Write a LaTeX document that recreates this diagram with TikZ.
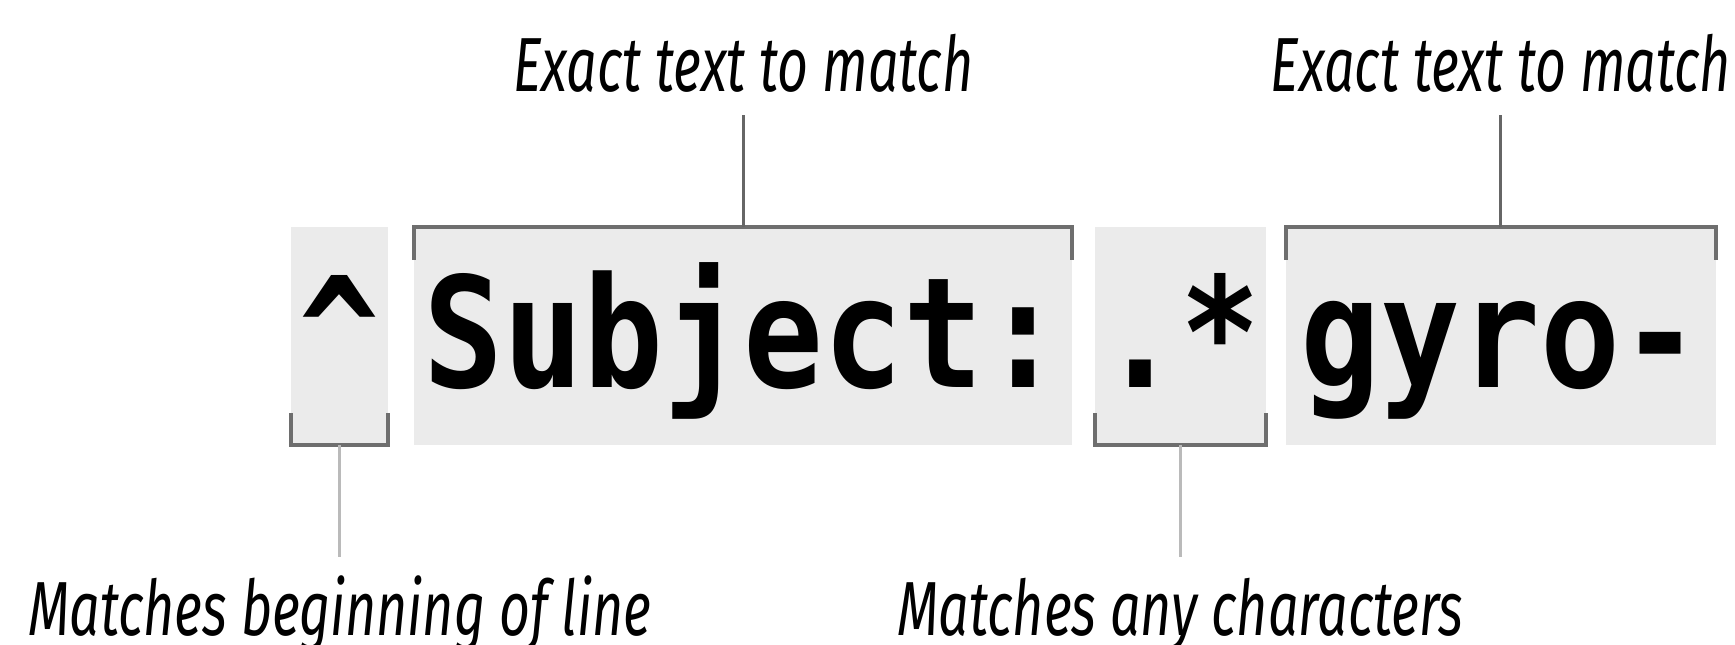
\documentclass[tikz,border=0pt]{standalone}
\usepackage{fontspec}
\usetikzlibrary{positioning}
\newfontfamily\codefont[FakeStretch=0.865]{DejaVu Sans Mono}
\newfontfamily\notefont[FakeStretch=0.7]{Fira Sans}

\begin{document}
\begin{tikzpicture}[
    x=0.01cm, y=-0.01cm,
    code/.style={
        rectangle, fill=black!8, inner sep=0pt, outer sep=0pt,
        text height=1.60cm, text depth=0.58cm, align=center,
        font=\codefont\bfseries\fontsize{43.7pt}{44pt}\selectfont
    },
    note/.style={
        inner sep=0pt, outer ysep=0.23cm, text height=0.55cm, text depth=0pt,
        font=\notefont\itshape\fontsize{21.8pt}{22pt}\selectfont
    },
    brk/.style={draw=black!57, line width=0.04cm},
    up/.style={draw=black!60, line width=0.035cm},
    down/.style={draw=black!27, line width=0.035cm}
]
    \useasboundingbox (0,0) rectangle (1735,644);

    %% --- Regex pieces ---
    \node[code, minimum width=0.97cm, anchor=base west] (caret) at (291,387) {\textasciicircum};
    \node[code, minimum width=6.58cm, right=0.26cm of caret] (subj) {Subject:};
    \node[code, minimum width=1.70cm, right=0.23cm of subj] (dotstar) {.*};
    \node[code, minimum width=4.30cm, right=0.20cm of dotstar] (gyro) {gyro-};

    %% --- Notes ---
    \node[note, above=1.12cm of subj] (exact1) {Exact text to match};
    \node[note, above=1.12cm of gyro] (exact2) {Exact text to match};
    \node[note, below=1.12cm of caret] (linestart) {Matches beginning of line};
    \node[note, below=1.12cm of dotstar] (anychars) {Matches any characters};

    %% --- Brackets ---
    \draw[brk] ([yshift=0.32cm]caret.south west) |- (caret.south east) -- ([yshift=0.32cm]caret.south east);
    \draw[brk] ([yshift=-0.33cm]subj.north west) |- (subj.north east) -- ([yshift=-0.33cm]subj.north east);
    \draw[brk] ([yshift=0.32cm]dotstar.south west) |- (dotstar.south east) -- ([yshift=0.32cm]dotstar.south east);
    \draw[brk] ([yshift=-0.33cm]gyro.north west) |- (gyro.north east) -- ([yshift=-0.33cm]gyro.north east);

    %% --- Leaders ---
    \draw[up] (subj.north) -- (exact1.south);
    \draw[up] (gyro.north) -- (exact2.south);
    \draw[down] (caret.south) -- (linestart.north);
    \draw[down] (dotstar.south) -- (anychars.north);
\end{tikzpicture}
\end{document}
